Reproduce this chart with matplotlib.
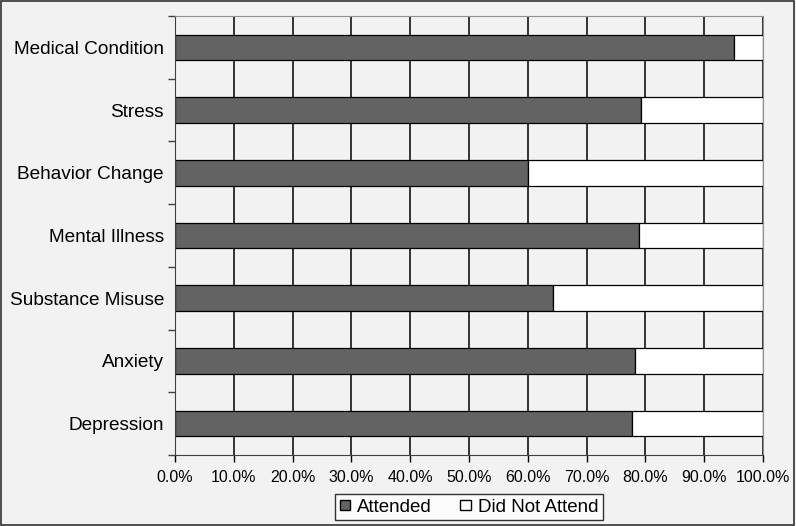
import numpy as np
import matplotlib.pyplot as plt
from matplotlib.patches import Patch, Rectangle
from matplotlib.ticker import FuncFormatter

categories = ["Medical Condition", "Stress", "Behavior Change", "Mental Illness",
              "Substance Misuse", "Anxiety", "Depression"]
attended = [95.0, 79.3, 60.0, 78.9, 64.3, 78.3, 77.8]
not_attended = [100 - a for a in attended]

plt.rcParams['font.family'] = ['Liberation Sans', 'DejaVu Sans']
bg = '#f2f2f2'

fig = plt.figure(figsize=(7.96, 5.26), dpi=100, facecolor=bg)
ax = fig.add_axes([175/796, 1 - 455/526, 588/796, 439/526])
ax.set_facecolor(bg)

y = np.arange(len(categories))[::-1]
ax.set_axisbelow(True)
ax.grid(axis='x', color='black', linewidth=1.1)
ax.barh(y, attended, height=0.41, color='#636363', edgecolor='black', linewidth=0.9)
ax.barh(y, not_attended, left=attended, height=0.41, color='white', edgecolor='black', linewidth=0.9)

ax.set_xlim(0, 100)
ax.set_ylim(-0.5, len(categories) - 0.5)
ax.set_xticks(np.arange(0, 101, 10))
ax.xaxis.set_major_formatter(FuncFormatter(lambda v, p: f"{v:.1f}%"))
ax.set_yticks(y)
ax.set_yticklabels(categories)
ax.set_yticks(np.arange(-0.5, len(categories), 1), minor=True)
ax.tick_params(axis='y', which='major', length=0, pad=8, labelsize=13.7)
ax.tick_params(axis='y', which='minor', length=5, width=1, color='#404040')
ax.tick_params(axis='x', length=5, width=1, pad=6, labelsize=11.5)

for s in ['top', 'right']:
    ax.spines[s].set_color('#909090')
ax.spines['left'].set_color('#404040')
ax.spines['bottom'].set_color('#404040')

handles = [Patch(facecolor='#636363', edgecolor='black', label='Attended'),
           Patch(facecolor='white', edgecolor='black', label='Did Not Attend')]
leg = fig.legend(handles=handles, loc='center', bbox_to_anchor=(469/796, 1 - 507/526),
                 ncol=2, frameon=True, fancybox=False, fontsize=13.5,
                 handlelength=0.55, handleheight=0.45, handletextpad=0.4,
                 columnspacing=1.5, borderpad=0.25, borderaxespad=0)
leg.get_frame().set_edgecolor('black')
leg.get_frame().set_facecolor('white')
leg.get_frame().set_linewidth(1)

fig.patches.append(Rectangle((0.001, 0.001), 0.997, 0.997, transform=fig.transFigure,
                             fill=False, edgecolor='#333333', linewidth=1.2))

fig.savefig('out.png', dpi=100, facecolor=bg)
